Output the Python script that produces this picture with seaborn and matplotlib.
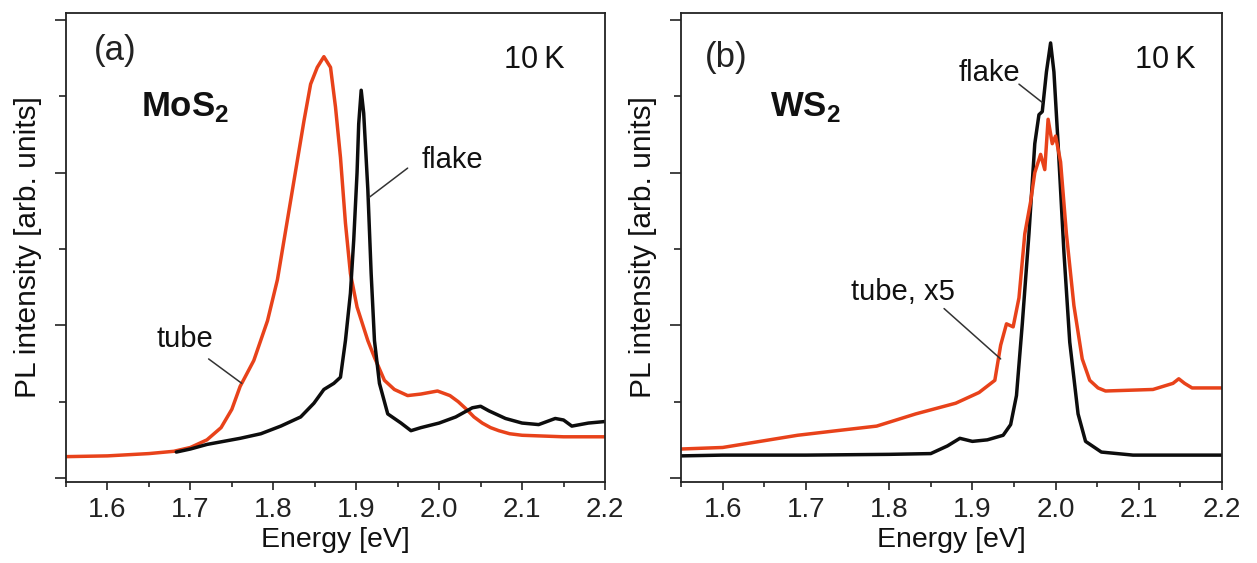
import numpy as np
import pandas as pd
import matplotlib
matplotlib.use("Agg")
import matplotlib.pyplot as plt
from matplotlib.ticker import MultipleLocator
import seaborn as sns

# ---------------- data ----------------
mos2_tube_x = [1.55, 1.60, 1.65, 1.68, 1.70, 1.72, 1.737, 1.75, 1.760, 1.7765, 1.793, 1.805,
               1.813, 1.821, 1.829, 1.837, 1.845, 1.853, 1.861, 1.869, 1.875, 1.881, 1.887,
               1.893, 1.901, 1.914, 1.922, 1.934, 1.946, 1.962, 1.978, 1.998, 2.013, 2.023,
               2.033, 2.042, 2.052, 2.062, 2.072, 2.085, 2.10, 2.15, 2.20]
mos2_tube_y = [0.14, 0.145, 0.16, 0.175, 0.20, 0.25, 0.33, 0.45, 0.60, 0.77, 1.03, 1.30,
               1.56, 1.82, 2.08, 2.34, 2.58, 2.69, 2.76, 2.69, 2.43, 2.10, 1.67,
               1.34, 1.12, 0.90, 0.79, 0.64, 0.58, 0.54, 0.55, 0.57, 0.54, 0.50,
               0.45, 0.40, 0.36, 0.33, 0.31, 0.29, 0.28, 0.27, 0.27]

mos2_flake_x = [1.683, 1.70, 1.72, 1.74, 1.760, 1.785, 1.809, 1.833, 1.849, 1.861, 1.873,
                1.881, 1.887, 1.893, 1.897, 1.901, 1.903, 1.906, 1.909, 1.914, 1.918, 1.922,
                1.928, 1.938, 1.954, 1.966, 1.978, 2.00, 2.02, 2.04, 2.05, 2.06, 2.08, 2.10,
                2.12, 2.14, 2.15, 2.16, 2.18, 2.20]
mos2_flake_y = [0.17, 0.19, 0.22, 0.24, 0.26, 0.29, 0.34, 0.40, 0.49, 0.58, 0.62,
                0.66, 0.90, 1.21, 1.56, 2.00, 2.32, 2.54, 2.39, 1.89, 1.34, 0.90,
                0.62, 0.42, 0.36, 0.31, 0.33, 0.36, 0.40, 0.46, 0.47, 0.44, 0.39, 0.36,
                0.35, 0.39, 0.38, 0.34, 0.36, 0.37]

ws2_flake_x = [1.55, 1.60, 1.70, 1.80, 1.85, 1.87, 1.885, 1.90, 1.918, 1.937, 1.946, 1.953,
               1.960, 1.968, 1.975, 1.980, 1.984, 1.989, 1.994, 1.998, 2.003, 2.010, 2.017,
               2.027, 2.036, 2.055, 2.093, 2.15, 2.20]
ws2_flake_y = [0.145, 0.15, 0.15, 0.155, 0.16, 0.21, 0.26, 0.24, 0.25, 0.28, 0.35, 0.54,
               1.01, 1.60, 2.19, 2.38, 2.40, 2.66, 2.85, 2.66, 2.19, 1.48, 0.89,
               0.42, 0.24, 0.17, 0.15, 0.15, 0.15]

ws2_tube_x = [1.55, 1.60, 1.69, 1.737, 1.785, 1.832, 1.88, 1.908, 1.927, 1.934, 1.941, 1.949,
              1.956, 1.963, 1.970, 1.975, 1.982, 1.987, 1.991, 1.996, 2.000, 2.006, 2.013,
              2.022, 2.032, 2.041, 2.051, 2.060, 2.117, 2.141, 2.148, 2.155, 2.164, 2.20]
ws2_tube_y = [0.19, 0.20, 0.28, 0.31, 0.34, 0.42, 0.49, 0.56, 0.64, 0.87, 1.01, 0.99,
              1.18, 1.60, 1.81, 2.00, 2.12, 2.02, 2.35, 2.19, 2.24, 2.07, 1.60,
              1.13, 0.78, 0.64, 0.59, 0.57, 0.58, 0.62, 0.65, 0.62, 0.59, 0.59]

x_ticks = [1.6, 1.7, 1.8, 1.9, 2.0, 2.1, 2.2]
x_tick_labels = ["1.6", "1.7", "1.8", "1.9", "2.0", "2.1", "2.2"]
panel_labels = ["(a)", "(b)"]
materials = ["MoS$_\\mathbf{2}$", "WS$_\\mathbf{2}$"]
temperature = "10\u2009K"
x_label = "Energy [eV]"
y_label = "PL intensity [arb. units]"

RED = "#e8421a"
BLACK = "#0d0d0d"

# ---------------- style ----------------
sns.set_theme(style="ticks")
plt.rcParams["font.family"] = ["Liberation Sans", "DejaVu Sans"]
plt.rcParams["mathtext.fontset"] = "custom"
plt.rcParams["mathtext.rm"] = "Liberation Sans"
plt.rcParams["mathtext.bf"] = "Liberation Sans:bold"

fig = plt.figure(figsize=(12.57, 5.63), dpi=100)
fig.patch.set_facecolor("white")
ax_a = fig.add_axes([0.0525, 0.1439, 0.4288, 0.833])
ax_b = fig.add_axes([0.5418, 0.1439, 0.4304, 0.833])

def draw(ax, red_x, red_y, blk_x, blk_y, order_red_first):
    df_r = pd.DataFrame({"E": red_x, "I": red_y})
    df_k = pd.DataFrame({"E": blk_x, "I": blk_y})
    if order_red_first:
        sns.lineplot(data=df_r, x="E", y="I", ax=ax, color=RED, lw=2.5, sort=False, estimator=None)
        sns.lineplot(data=df_k, x="E", y="I", ax=ax, color=BLACK, lw=2.5, sort=False, estimator=None)
    else:
        sns.lineplot(data=df_k, x="E", y="I", ax=ax, color=BLACK, lw=2.5, sort=False, estimator=None)
        sns.lineplot(data=df_r, x="E", y="I", ax=ax, color=RED, lw=2.5, sort=False, estimator=None)

draw(ax_a, mos2_tube_x, mos2_tube_y, mos2_flake_x, mos2_flake_y, True)
draw(ax_b, ws2_tube_x, ws2_tube_y, ws2_flake_x, ws2_flake_y, False)

for ax in (ax_a, ax_b):
    ax.set_facecolor("white")
    ax.set_xlim(1.55, 2.2)
    ax.set_ylim(-0.026, 3.046)
    ax.set_xticks(x_ticks)
    ax.set_xticklabels(x_tick_labels)
    ax.xaxis.set_minor_locator(MultipleLocator(0.05))
    ax.yaxis.set_major_locator(MultipleLocator(1.0))
    ax.yaxis.set_minor_locator(MultipleLocator(0.5))
    ax.set_yticklabels([])
    ax.tick_params(axis="x", which="major", direction="out", length=6, width=1.2,
                   colors="#222222", labelsize=20, pad=5)
    ax.tick_params(axis="x", which="minor", direction="out", length=3.8, width=1.2, colors="#222222")
    ax.tick_params(axis="y", which="major", direction="out", length=8, width=1.2, colors="#222222")
    ax.tick_params(axis="y", which="minor", direction="out", length=5, width=1.2, colors="#222222")
    for s in ax.spines.values():
        s.set_visible(True)
        s.set_linewidth(1.3)
        s.set_color("#222222")
    ax.set_xlabel(x_label, fontsize=20.5, color="#111111", labelpad=3)
    ax.set_ylabel(y_label, fontsize=21.5, color="#111111", labelpad=6)

# panel texts
ax_a.text(0.052, 0.92, panel_labels[0], transform=ax_a.transAxes, fontsize=25,
          color="#222222", va="center", ha="left")
ax_b.text(0.044, 0.905, panel_labels[1], transform=ax_b.transAxes, fontsize=25,
          color="#222222", va="center", ha="left")
ax_a.text(0.869, 0.90, temperature, transform=ax_a.transAxes, fontsize=22,
          color="#111111", va="center", ha="center")
ax_b.text(0.895, 0.90, temperature, transform=ax_b.transAxes, fontsize=22,
          color="#111111", va="center", ha="center")
ax_a.text(0.14, 0.80, materials[0], transform=ax_a.transAxes, fontsize=25,
          fontweight="bold", color="#111111", va="center", ha="left")
ax_b.text(0.165, 0.80, materials[1], transform=ax_b.transAxes, fontsize=25,
          fontweight="bold", color="#111111", va="center", ha="left")

ann = dict(arrowstyle="-", color="#333333", lw=1.1, shrinkA=0, shrinkB=0)
# leader lines
ax_a.annotate("", xy=(1.916, 1.84), xytext=(1.962, 2.03), arrowprops=ann)
ax_a.annotate("", xy=(1.762, 0.62), xytext=(1.722, 0.78), arrowprops=ann)
ax_b.annotate("", xy=(1.984, 2.46), xytext=(1.956, 2.58), arrowprops=ann)
ax_b.annotate("", xy=(1.934, 0.78), xytext=(1.866, 1.11), arrowprops=ann)
# label texts
ax_a.text(2.0155, 2.08, "flake", fontsize=21, ha="center", va="center", color="#111111")
ax_a.text(1.693, 0.91, "tube", fontsize=21, ha="center", va="center", color="#111111")
ax_b.text(1.92, 2.65, "flake", fontsize=21, ha="center", va="center", color="#111111")
ax_b.text(1.816, 1.22, "tube, x5", fontsize=21, ha="center", va="center", color="#111111")

fig.savefig("out.png", dpi=100, facecolor="white")
